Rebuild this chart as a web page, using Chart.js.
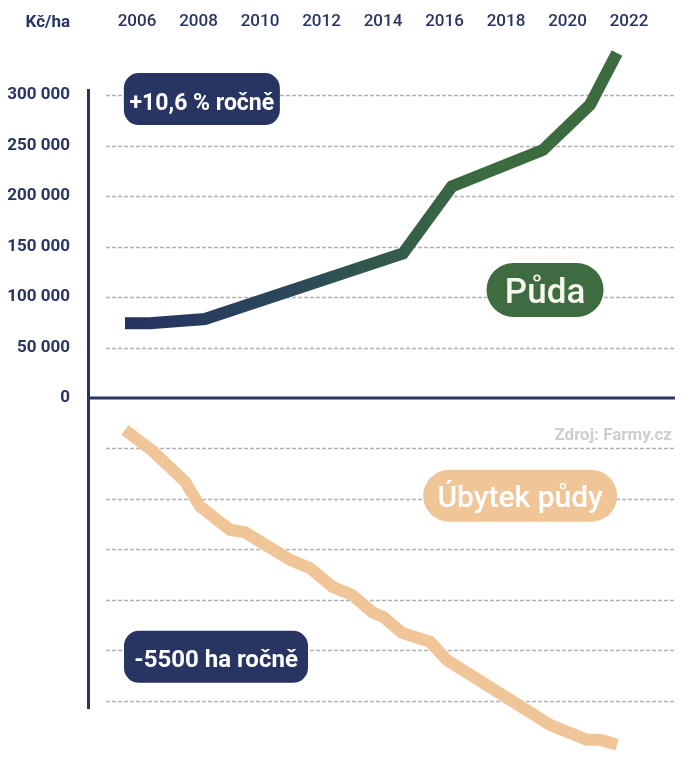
<!DOCTYPE html>
<html>
<head>
<meta charset="utf-8">
<script src="https://cdn.jsdelivr.net/npm/chart.js@4.4.1/dist/chart.umd.min.js"></script>
<style>
html,body{margin:0;padding:0;background:#fff;overflow:hidden}
#wrap{width:685px;height:761px;position:relative}
</style>
</head>
<body>
<div id="wrap"><canvas id="c"></canvas></div>
<script>
// ---- data ----
const xTickYears = [2006, 2008, 2010, 2012, 2014, 2016, 2018, 2020, 2022];
const yTickValues = [0, 50000, 100000, 150000, 200000, 250000, 300000];
const gridValues = [300000, 250000, 200000, 150000, 100000, 50000,
  -50000, -100000, -150000, -200000, -250000, -300000];

// price of agricultural land (Kč/ha)
const priceYears  = [2006.00, 2006.81, 2008.60, 2015.04, 2016.63, 2019.59, 2021.12, 2022.00];
const priceValues = [74000, 74000, 78200, 143100, 209400, 245600, 290200, 341600];

// cumulative loss of land since 2006 (ha)
const lossYears  = [2006.00, 2006.90, 2007.95, 2008.44, 2009.41, 2009.90, 2011.37, 2012.02, 2012.76,
  2013.38, 2014.07, 2014.39, 2015.01, 2015.92, 2016.47, 2019.82, 2021.02, 2021.45, 2022.00];
const lossValues = [0, -5900, -14400, -21400, -27900, -28600, -36300, -38600, -43900,
  -46100, -51100, -52200, -56700, -59200, -64300, -82400, -86600, -86600, -88000];

const unitLabel = 'Kč/ha';
const notePrice = '+10,6 % ročně';
const noteLoss = '-5500 ha ročně';
const labelPrice = 'Půda';
const labelLoss = 'Úbytek půdy';
const sourceLabel = 'Zdroj: Farmy.cz';

// ---- styles ----
const NAVY = '#283462';
const GREEN = '#3e6b40';
const PEACH = '#f0c598';
const FONT = 'Roboto';

const fmt = v => String(v).replace(/\B(?=(\d{3})+(?!\d))/g, ' ');

const badges = [
  {text: notePrice, x: 2008.5, y: 296000, axis: 'y', w: 156, h: 52, r: 15, dy: 11, bg: NAVY, color: '#ffffff', font: '700 23px ' + FONT},
  {text: labelPrice, x: 2019.66, y: 107000, axis: 'y', w: 117, h: 54, r: 27, dy: 13, bg: GREEN, color: '#f7f7ef', font: '500 35px ' + FONT},
  {text: labelLoss, x: 2018.85, y: -18400, axis: 'y2', w: 194, h: 52, r: 26, dy: 11, bg: PEACH, color: '#ffffff', font: '500 30px ' + FONT},
  {text: noteLoss, x: 2008.96, y: -63400, axis: 'y2', w: 184, h: 52, r: 15, dy: 10, bg: NAVY, color: '#ffffff', font: '700 24px ' + FONT}
];

function roundRectPath(ctx, x, y, w, h, r) {
  ctx.beginPath();
  ctx.moveTo(x + r, y);
  ctx.lineTo(x + w - r, y);
  ctx.arc(x + w - r, y + r, r, -Math.PI / 2, 0);
  ctx.lineTo(x + w, y + h - r);
  ctx.arc(x + w - r, y + h - r, r, 0, Math.PI / 2);
  ctx.lineTo(x + r, y + h);
  ctx.arc(x + r, y + h - r, r, Math.PI / 2, Math.PI);
  ctx.lineTo(x, y + r);
  ctx.arc(x + r, y + r, r, Math.PI, Math.PI * 1.5);
  ctx.closePath();
}

const decor = {
  id: 'decor',
  beforeDatasetsDraw(chart) {
    const {ctx, chartArea: a, scales: {y}} = chart;
    ctx.save();
    ctx.strokeStyle = '#b3b3b3';
    ctx.lineWidth = 1.6;
    ctx.setLineDash([4, 2]);
    gridValues.forEach(v => {
      const py = Math.round(y.getPixelForValue(v)) + 0.5;
      ctx.beginPath();
      ctx.moveTo(a.left + 18, py);
      ctx.lineTo(a.right, py);
      ctx.stroke();
    });
    ctx.setLineDash([]);
    ctx.strokeStyle = NAVY;
    ctx.lineWidth = 3;
    const zy = y.getPixelForValue(0);
    ctx.beginPath();
    ctx.moveTo(a.left, zy);
    ctx.lineTo(a.right, zy);
    ctx.stroke();
    ctx.restore();
  },
  afterDatasetsDraw(chart) {
    const {ctx, chartArea: a, scales} = chart;
    ctx.save();
    badges.forEach(b => {
      const cx = scales.x.getPixelForValue(b.x);
      const cy = scales[b.axis].getPixelForValue(b.y);
      roundRectPath(ctx, cx - b.w / 2, cy - b.h / 2, b.w, b.h, b.r);
      ctx.fillStyle = b.bg;
      ctx.fill();
      ctx.font = b.font;
      ctx.fillStyle = b.color;
      ctx.textAlign = 'center';
      ctx.textBaseline = 'alphabetic';
      ctx.fillText(b.text, cx, cy + b.dy);
    });
    // unit label above y axis labels
    ctx.font = '700 17px ' + FONT;
    ctx.fillStyle = NAVY;
    ctx.textAlign = 'right';
    ctx.textBaseline = 'middle';
    ctx.fillText(unitLabel, a.left - 18, 23);
    // source
    ctx.font = '700 17px ' + FONT;
    ctx.fillStyle = '#cdcdcd';
    ctx.textAlign = 'right';
    ctx.textBaseline = 'alphabetic';
    ctx.fillText(sourceLabel, a.right - 3, scales.y2.getPixelForValue(0) + 10);
    ctx.restore();
  }
};

function priceGradient(context) {
  const chart = context.chart;
  if (!chart.chartArea) return NAVY;
  const xs = chart.scales.x;
  const g = chart.ctx.createLinearGradient(xs.getPixelForValue(2006), 0, xs.getPixelForValue(2017.5), 0);
  g.addColorStop(0, '#263262');
  g.addColorStop(0.5, '#2c4a58');
  g.addColorStop(1, '#3c6b3f');
  return g;
}

new Chart(document.getElementById('c'), {
  type: 'line',
  data: {
    datasets: [
      {
        label: labelPrice,
        data: priceYears.map((x, i) => ({x, y: priceValues[i]})),
        yAxisID: 'y',
        borderColor: priceGradient,
        borderWidth: 12,
        pointRadius: 0,
        tension: 0,
        fill: false,
        clip: false,
        borderCapStyle: 'butt',
        borderJoinStyle: 'miter'
      },
      {
        label: labelLoss,
        data: lossYears.map((x, i) => ({x, y: lossValues[i]})),
        yAxisID: 'y2',
        borderColor: PEACH,
        borderWidth: 12,
        pointRadius: 0,
        tension: 0,
        fill: false,
        clip: false,
        borderCapStyle: 'butt',
        borderJoinStyle: 'miter'
      }
    ]
  },
  options: {
    responsive: true,
    maintainAspectRatio: false,
    animation: false,
    events: [],
    layout: {padding: {left: 0, right: 10, top: 0, bottom: 53}},
    plugins: {legend: {display: false}, tooltip: {enabled: false}},
    scales: {
      x: {
        type: 'linear',
        position: 'top',
        min: 2004.797,
        max: 2023.886,
        afterBuildTicks: s => { s.ticks = xTickYears.map(v => ({value: v})); },
        afterFit: s => { s.height = 90; s.paddingLeft = 0; s.paddingRight = 0; },
        grid: {display: false, drawTicks: false},
        border: {display: false},
        ticks: {
          padding: 58,
          labelOffset: 12,
          color: NAVY,
          autoSkip: false,
          maxRotation: 0,
          font: {family: FONT, size: 17, weight: '500'},
          callback: v => String(v)
        }
      },
      y: {
        type: 'linear',
        position: 'left',
        min: -307000,
        max: 305000,
        afterBuildTicks: s => { s.ticks = yTickValues.map(v => ({value: v})); },
        afterFit: s => { s.width = 88; s.paddingTop = 0; s.paddingBottom = 0; },
        grid: {display: false, drawTicks: false},
        border: {display: true, color: NAVY, width: 3},
        ticks: {
          padding: 18,
          color: NAVY,
          autoSkip: false,
          font: {family: FONT, size: 17, weight: '700'},
          callback: v => fmt(v)
        }
      },
      y2: {
        type: 'linear',
        display: false,
        min: -77700,
        max: 95000
      }
    }
  },
  plugins: [decor]
});
</script>
</body>
</html>
